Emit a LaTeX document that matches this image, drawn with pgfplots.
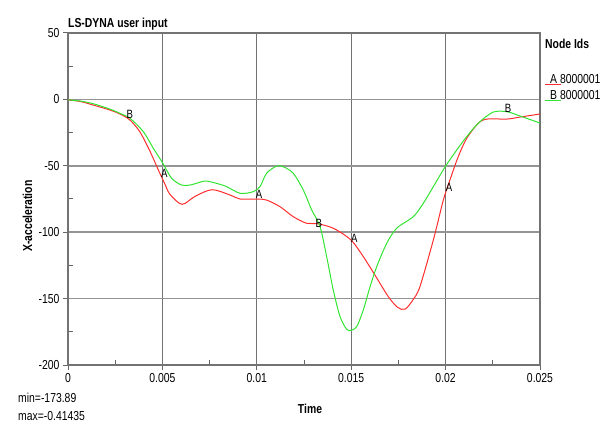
\documentclass[border=0pt]{standalone}
\usepackage{fontspec}
\setmainfont{Liberation Sans}[FakeStretch=0.8]
\usepackage{pgfplots}
\pgfplotsset{compat=1.18}
\definecolor{curveA}{RGB}{255,45,45}
\definecolor{curveB}{RGB}{50,228,50}
\newcommand{\lbl}{\fontsize{13bp}{15bp}\selectfont}
\begin{document}
\begin{tikzpicture}
\useasboundingbox (-68bp,-59bp) rectangle (538bp,365bp);
\begin{axis}[
    at={(0,0)}, anchor=south west,
    scale only axis, width=472bp, height=332bp,
    xmin=0, xmax=0.025, ymin=-200, ymax=50,
    xtick={0,0.005,0.01,0.015,0.02,0.025},
    xticklabels={0,0.005,0.01,0.015,0.02,0.025},
    ytick={-200,-150,-100,-50,0,50},
    scaled x ticks=false,
    minor x tick num=1, minor y tick num=1,
    grid=major,
    x grid style={black!55, line width=0.8bp},
    y grid style={black!42, line width=1.5bp},
    axis line style={black!55, line width=1.5bp},
    tick pos=left, tick align=outside,
    major tick length=5bp, minor tick length=-5bp,
    tick style={black!60, line width=1bp},
    ticklabel style={font=\lbl},
    /pgf/number format/assume math mode=true,
]
% A 8000001
\addplot[curveA, line width=1bp, smooth] coordinates {
(0,-0.5) (0.000636,-1.5) (0.00132,-4.2) (0.00222,-8) (0.00275,-11)
(0.00328,-15.5) (0.00381,-24.5) (0.00434,-39) (0.00478,-53) (0.00514,-64)
(0.0054,-71.5) (0.00604,-79) (0.00673,-73) (0.00763,-68) (0.00858,-72)
(0.00911,-75) (0.01,-75) (0.01052,-75.8) (0.01123,-80.8) (0.01193,-88.3)
(0.01264,-93.3) (0.01317,-93.5) (0.01405,-97) (0.01499,-105.9) (0.01564,-118.4)
(0.01631,-133.5) (0.01697,-148.6) (0.01745,-156.5) (0.01785,-158) (0.01827,-151)
(0.01864,-141) (0.01935,-105.9) (0.01988,-75.8) (0.02023,-60.7) (0.02067,-43.1)
(0.02112,-29.3) (0.02173,-18) (0.0222,-14.8) (0.02325,-14.8) (0.02394,-13.3)
(0.025,-11)
};
% B 8000001
\addplot[curveB, line width=1bp, smooth] coordinates {
(0,-0.4) (0.000636,-1.2) (0.00132,-3.2) (0.00222,-7.3) (0.00275,-10.5)
(0.00328,-14.2) (0.00399,-24.3) (0.00452,-36.8) (0.00502,-48) (0.00549,-59.4)
(0.00602,-64.5) (0.00646,-64.5) (0.00699,-62.4) (0.00736,-61.5) (0.00832,-65.2)
(0.00911,-70.7) (0.00981,-69.5) (0.01017,-65.7) (0.01052,-55.6) (0.01105,-50.2)
(0.0114,-50.7) (0.01193,-55.6) (0.01246,-68.2) (0.01291,-83.3) (0.01335,-95.8)
(0.0137,-118.4) (0.01405,-143.5) (0.01441,-163.6) (0.01476,-173.1) (0.01499,-173.9)
(0.01529,-171.2) (0.01564,-158.6) (0.016,-141) (0.01635,-126) (0.01688,-108.4)
(0.01741,-97) (0.01829,-88.3) (0.01882,-78.2) (0.01935,-65.7) (0.01998,-50.7)
(0.02059,-38.1) (0.02112,-28) (0.02173,-18) (0.02251,-9.6) (0.02325,-9.3)
(0.02394,-12.5) (0.025,-17.8)
};
\addplot[only marks, mark=text, text mark={\fontsize{12bp}{14bp}\selectfont A}, black] coordinates {
(0.0051,-56) (0.01012,-71.2) (0.01517,-104.6) (0.02019,-66.2)
};
\addplot[only marks, mark=text, text mark={\fontsize{12bp}{14bp}\selectfont B}, black] coordinates {
(0.00328,-11.2) (0.01329,-93.3) (0.02331,-6.5)
};
\end{axis}
\node[anchor=base west, inner sep=0, font=\bfseries\lbl] at (0bp,337bp) {LS-DYNA user input};
\node[anchor=base west, inner sep=0, font=\bfseries\lbl] at (477bp,316bp) {Node Ids};
\draw[curveA, line width=1.2bp] (477bp,280.5bp) -- (493bp,280.5bp);
\node[anchor=base west, inner sep=0, font=\lbl] at (482bp,281bp) {A 8000001};
\draw[curveB, line width=1.2bp] (477bp,264.5bp) -- (493bp,264.5bp);
\node[anchor=base west, inner sep=0, font=\lbl] at (482bp,265bp) {B 8000001};
\node[rotate=90, inner sep=0, font=\bfseries\lbl] at (-40.5bp,149bp) {X-acceleration};
\node[inner sep=0, font=\bfseries\lbl] at (242bp,-44bp) {Time};
\node[anchor=west, inner sep=0, font=\lbl] at (-50bp,-33bp) {min=-173.89};
\node[anchor=west, inner sep=0, font=\lbl] at (-50bp,-51bp) {max=-0.41435};
\end{tikzpicture}
\end{document}
